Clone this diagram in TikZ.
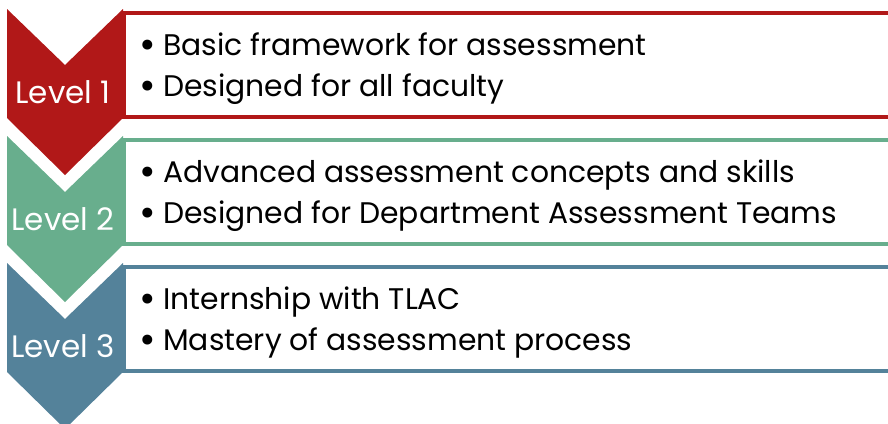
\documentclass[tikz,border=0pt]{standalone}
\usepackage{fontspec}
\setmainfont{Poppins}
\usetikzlibrary{math}

\definecolor{levelred}{RGB}{177,24,24}
\definecolor{levelgreen}{RGB}{104,174,141}
\definecolor{levelblue}{RGB}{84,130,154}

\newcommand{\bigbullet}{\raisebox{-0.1em}{\scalebox{1.35}{\textbullet}}}

\begin{document}
\begin{tikzpicture}[x=1pt, y=-1pt]
\tikzstyle{level label}=[text=white, inner sep=0pt, font=\fontsize{31}{31}\selectfont]
\tikzstyle{item box}=[line width=3.5pt]
\tikzstyle{item text}=[anchor=west, inner sep=0pt, font=\fontsize{29.8}{40.5}\selectfont]

\useasboundingbox (0,0) rectangle (888,423);
\clip (0,0) rectangle (888,423);

% Draw the three levels, one chevron and one box each
\foreach \n/\col/\first/\second in {
    1/levelred/Basic framework for assessment/Designed for all faculty,
    2/levelgreen/Advanced assessment concepts and skills/Designed for Department Assessment Teams,
    3/levelblue/Internship with TLAC/Mastery of assessment process} {
        \tikzmath{
            real \ltop;
            \ltop = 9 + 127 * (\n - 1);
        }
        \fill[\col] (7, \ltop) -- (65, \ltop + 56) -- (123, \ltop) -- (123, \ltop + 109)
            -- (65, \ltop + 166) -- (7, \ltop + 109) -- cycle;
        \draw[item box, draw=\col] (950, \ltop + 4) -- (124, \ltop + 4) -- (124, \ltop + 108) -- (950, \ltop + 108);
        \node[level label] (level\n) at (63, \ltop + 83) {Level \n};
        \node[item text] (items\n) at (139, \ltop + 59) {
            \begin{tabular}{@{}l@{\hspace{7.5pt}}l@{}}
            \bigbullet & \first \\
            \bigbullet & \second \\
            \end{tabular}
        };
    };

\end{tikzpicture}
\end{document}
